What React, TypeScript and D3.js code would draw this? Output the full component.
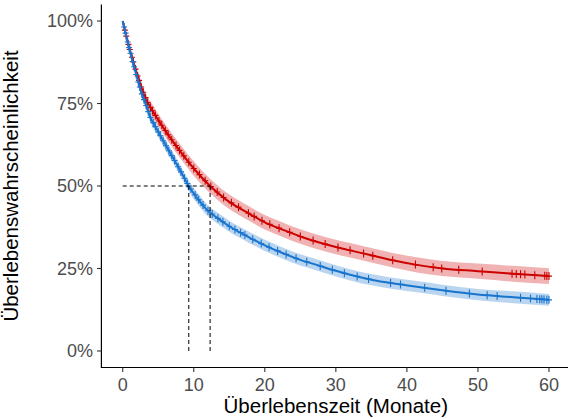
import React from "react";
import * as d3 from "d3";

const W = 568;
const H = 419;

// Survival curve readings (months, survival probability)
const blueTime = [0, 0.6, 1.3, 2, 2.6, 3.2, 3.85, 5, 6.2, 7.5, 8.4, 9.3, 10.9, 12, 13.2, 15, 17.9, 20, 22.6, 25, 27.3, 30, 32, 35, 38, 41.4, 45, 50, 55, 60];
const blueSurv = [1, 0.945, 0.885, 0.83, 0.785, 0.75, 0.71, 0.664, 0.618, 0.57, 0.535, 0.5, 0.452, 0.425, 0.405, 0.378, 0.343, 0.32, 0.296, 0.276, 0.261, 0.243, 0.231, 0.216, 0.205, 0.195, 0.184, 0.171, 0.163, 0.155];
const blueBand = [0, 0.006, 0.009, 0.011, 0.012, 0.013, 0.014, 0.015, 0.016, 0.016, 0.016, 0.017, 0.017, 0.017, 0.017, 0.017, 0.017, 0.017, 0.017, 0.017, 0.017, 0.017, 0.017, 0.017, 0.017, 0.017, 0.017, 0.017, 0.018, 0.018];

const redTime = [0, 0.6, 1.3, 2, 2.6, 3.4, 3.85, 5, 6.5, 8.1, 10, 12.3, 14.6, 17.9, 20, 22.6, 25, 27.3, 30, 32, 35, 38, 41.4, 45, 50, 55, 60];
const redSurv = [1, 0.945, 0.89, 0.84, 0.8, 0.757, 0.74, 0.7, 0.652, 0.605, 0.553, 0.5, 0.458, 0.415, 0.39, 0.367, 0.347, 0.331, 0.315, 0.305, 0.29, 0.275, 0.261, 0.25, 0.242, 0.234, 0.227];
const redBand = [0, 0.008, 0.011, 0.013, 0.015, 0.017, 0.018, 0.019, 0.02, 0.021, 0.022, 0.022, 0.022, 0.022, 0.022, 0.022, 0.022, 0.022, 0.022, 0.022, 0.022, 0.022, 0.023, 0.023, 0.023, 0.024, 0.024];

// Censoring times
const blueCensor = [0.2, 0.4, 0.7, 0.9, 1.1, 1.4, 1.6, 1.9, 2.2, 2.4, 2.7, 3.0, 3.3, 3.6, 3.9, 4.3, 4.6, 5.0, 5.3, 5.7, 6.1, 6.5, 6.9, 7.3, 7.8, 8.2, 8.7, 9.1, 9.6, 10.2, 10.7, 11.3, 12.0, 12.6, 13.4, 14.1, 15.0, 15.8, 16.6, 17.2, 18.3, 19.5, 20.6, 21.8, 23.0, 24.4, 25.9, 27.8, 29.5, 31.2, 33.0, 34.6, 37.7, 39.1, 42.5, 45.5, 48.8, 51.3, 52.7, 56.0, 57.4, 58.3, 58.7, 59.0, 59.3, 59.7, 60];
const redCensor = [0.3, 0.5, 0.8, 1.0, 1.3, 1.5, 1.8, 2.1, 2.3, 2.6, 2.9, 3.2, 3.5, 3.9, 4.2, 4.6, 5.1, 5.5, 6.0, 6.4, 6.9, 7.5, 8.0, 8.6, 9.3, 10.0, 10.8, 11.6, 12.4, 13.3, 14.2, 15.3, 16.3, 17.7, 18.5, 19.6, 20.7, 22.0, 23.5, 25.0, 26.8, 28.5, 30.3, 32.0, 33.9, 35.2, 38.0, 41.2, 43.7, 44.9, 47.3, 50.6, 54.8, 55.4, 56.0, 56.6, 58.0, 59.4, 59.7, 60];

const medians = [9.3, 12.3];
const xTicks = [0, 10, 20, 30, 40, 50, 60];
const yTicks = [0, 0.25, 0.5, 0.75, 1];

const RED = "#CD0000";
const BLUE = "#1874CD";

export default function App() {
  const x = d3.scaleLinear().domain([-3, 63]).range([101.4, 570.3]);
  const y = d3.scaleLinear().domain([-0.05, 1.05]).range([367.5, 4.5]);

  const series = [
    { t: redTime, s: redSurv, b: redBand, c: redCensor, col: RED },
    { t: blueTime, s: blueSurv, b: blueBand, c: blueCensor, col: BLUE },
  ];

  const interp = (ts: number[], ss: number[], t: number) => {
    const i = Math.max(1, d3.bisectLeft(ts, t));
    const t0 = ts[i - 1], t1 = ts[Math.min(i, ts.length - 1)];
    const s0 = ss[i - 1], s1 = ss[Math.min(i, ss.length - 1)];
    if (t1 === t0) return s0;
    return s0 + ((t - t0) / (t1 - t0)) * (s1 - s0);
  };

  const font = "'Liberation Sans', Arial, Helvetica, sans-serif";

  return (
    <svg
      width={W}
      height={H}
      style={{ position: "absolute", left: 0, top: 0, background: "#fff" }}
      fontFamily={font}
    >
      <defs>
        <clipPath id="panel">
          <rect x={101.4} y={4.5} width={W - 101.4} height={363} />
        </clipPath>
      </defs>
      <g clipPath="url(#panel)">
        {series.map((sr, k) => {
          const area = d3
            .area<number>()
            .x((_, i) => x(sr.t[i]))
            .y0((_, i) => y(sr.s[i] - sr.b[i]))
            .y1((_, i) => y(sr.s[i] + sr.b[i]))
            .curve(d3.curveMonotoneX);
          return (
            <path key={"a" + k} d={area(sr.s) || ""} fill={sr.col} fillOpacity={0.3} stroke="none" />
          );
        })}
        {series.map((sr, k) => {
          const l = d3
            .line<number>()
            .x((_, i) => x(sr.t[i]))
            .y((d) => y(d))
            .curve(d3.curveMonotoneX);
          return (
            <g key={"l" + k}>
              <path d={l(sr.s) || ""} fill="none" stroke={sr.col} strokeWidth={2} />
              {sr.c.map((t, j) => {
                const px = x(t);
                const py = y(interp(sr.t, sr.s, t));
                return (
                  <path
                    key={j}
                    d={`M${px - 3},${py}H${px + 3}M${px},${py - 4}V${py + 4}`}
                    stroke={sr.col}
                    strokeWidth={1.1}
                    fill="none"
                  />
                );
              })}
            </g>
          );
        })}
        <path
          d={`M${x(0)},${y(0.5)}H${x(medians[1])}`}
          stroke="#000"
          strokeWidth={1}
          strokeDasharray="4,3"
          fill="none"
        />
        {medians.map((m, i) => (
          <path
            key={"m" + i}
            d={`M${x(m)},${y(0.5)}V${y(0)}`}
            stroke="#000"
            strokeWidth={1}
            strokeDasharray="4,3"
            fill="none"
          />
        ))}
      </g>
      <line x1={101.4} x2={W} y1={367.5} y2={367.5} stroke="#000" strokeWidth={1.2} />
      <line x1={101.4} x2={101.4} y1={4.5} y2={368} stroke="#000" strokeWidth={1.2} />
      {xTicks.map((t) => (
        <g key={"xt" + t}>
          <line x1={x(t)} x2={x(t)} y1={367.5} y2={372} stroke="#333" strokeWidth={1.1} />
          <text x={x(t)} y={391} textAnchor="middle" fontSize={18} fill="#4D4D4D">
            {t}
          </text>
        </g>
      ))}
      {yTicks.map((t) => (
        <g key={"yt" + t}>
          <line x1={97} x2={101.4} y1={y(t)} y2={y(t)} stroke="#333" strokeWidth={1.1} />
          <text x={93} y={y(t)} dy="0.35em" textAnchor="end" fontSize={18} fill="#4D4D4D">
            {d3.format(".0%")(t)}
          </text>
        </g>
      ))}
      <text x={335.8} y={413} textAnchor="middle" fontSize={20.5} fill="#000">
        Überlebenszeit (Monate)
      </text>
      <text
        transform={`translate(18,186) rotate(-90)`}
        textAnchor="middle"
        fontSize={20.5}
        fill="#000"
      >
        Überlebenswahrscheinlichkeit
      </text>
    </svg>
  );
}
